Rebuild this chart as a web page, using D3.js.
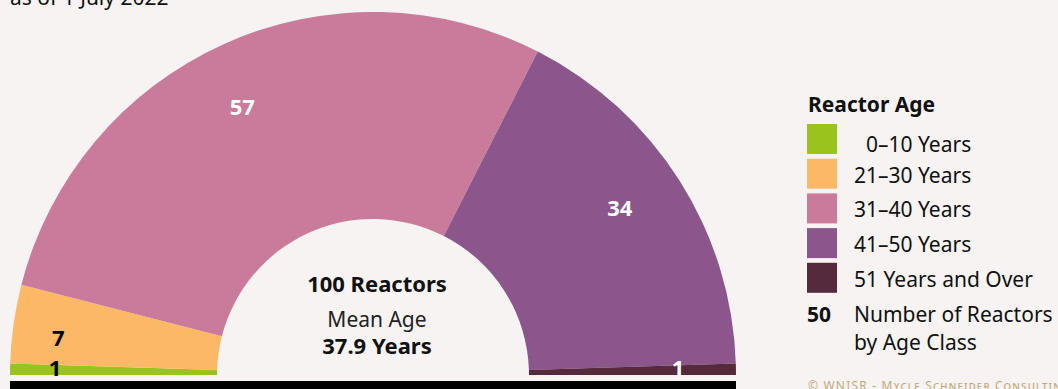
<!DOCTYPE html>
<html><head><meta charset="utf-8">
<script src="https://cdn.jsdelivr.net/npm/d3@7"></script>
<style>
html,body{margin:0;padding:0;background:#f6f3f2;}
svg{display:block;font-family:"Noto Sans",sans-serif;}
</style></head><body>
<svg id="c" width="1058" height="389"></svg>
<script>
const categories = ["0\u201310 Years", "21\u201330 Years", "31\u201340 Years", "41\u201350 Years", "51 Years and Over"];
const values = [1, 7, 57, 34, 1];
const colors = ["#9ac31c", "#fbb967", "#ca7a9a", "#8a568c", "#552a3c"];
const labelColors = ["#000", "#000", "#fff", "#fff", "#fff"];
const title = "as of 1 July 2022";
const centerLines = ["100 Reactors", "Mean Age", "37.9 Years"];
const legendTitle = "Reactor Age";
const legendNote = ["50", "Number of Reactors", "by Age Class"];
const credit = "\u00a9 WNISR - Mycle Schneider Consulting";

const svg = d3.select("#c");
const cx = 373, cy = 375, rOuter = 363, rInner = 156;

svg.append("text").attr("x", 10).attr("y", 5).attr("font-size", 21).attr("fill", "#111").text(title);

const pie = d3.pie().sort(null).value(d => d).startAngle(-Math.PI / 2).endAngle(Math.PI / 2);
const arcs = pie(values);
const arc = d3.arc().innerRadius(rInner).outerRadius(rOuter);
const g = svg.append("g").attr("transform", `translate(${cx},${cy})`);
g.selectAll("path").data(arcs).join("path").attr("d", arc).attr("fill", (d, i) => colors[i]);

g.selectAll("text.lbl").data(arcs).join("text").attr("class", "lbl")
  .attr("transform", d => {
    const small = d.data < 10;
    const last = d.index === arcs.length - 1;
    const r = small ? (last ? 305 : 318) : 298;
    const a = (d.startAngle + d.endAngle) / 2 - (small ? 0 : 0.03);
    const lift = d.index === 1 ? 8 : (small ? -2 : 0);
    return `translate(${r * Math.sin(a)},${-r * Math.cos(a) + lift})`;
  })
  .attr("text-anchor", "middle").attr("dy", "0.36em")
  .attr("font-size", 22).attr("font-weight", "bold")
  .attr("fill", (d, i) => labelColors[i]).text(d => d.data);

// baseline bar
svg.append("rect").attr("x", cx - rOuter).attr("y", 381).attr("width", 2 * rOuter).attr("height", 8).attr("fill", "#000");

// center text
const tx = cx + 4;
svg.append("text").attr("x", tx).attr("y", 292).attr("text-anchor", "middle").attr("font-size", 22).attr("font-weight", "bold").attr("fill", "#111").text(centerLines[0]);
svg.append("text").attr("x", tx).attr("y", 327).attr("text-anchor", "middle").attr("font-size", 21).attr("fill", "#222").text(centerLines[1]);
svg.append("text").attr("x", tx).attr("y", 354).attr("text-anchor", "middle").attr("font-size", 22).attr("font-weight", "bold").attr("fill", "#111").text(centerLines[2]);

// legend
const lx = 807;
svg.append("text").attr("x", lx + 1).attr("y", 112).attr("font-size", 21).attr("font-weight", "bold").attr("fill", "#111").text(legendTitle);
const ly = d3.scaleLinear().domain([0, 1]).range([124, 158.7]);
const leg = svg.append("g");
categories.forEach((c, i) => {
  leg.append("rect").attr("x", lx).attr("y", ly(i)).attr("width", 30).attr("height", 30).attr("fill", colors[i]);
  leg.append("text").attr("x", i === 0 ? 866 : 854).attr("y", ly(i) + (i === 0 ? 28 : 24)).attr("font-size", 21).attr("fill", "#111").text(c);
});
svg.append("text").attr("x", lx).attr("y", 322).attr("font-size", 21).attr("font-weight", "bold").attr("fill", "#111").text(legendNote[0]);
svg.append("text").attr("x", 854).attr("y", 322).attr("font-size", 21).attr("fill", "#111").text(legendNote[1]);
svg.append("text").attr("x", 854).attr("y", 350).attr("font-size", 21).attr("fill", "#111").text(legendNote[2]);

svg.append("text").attr("x", 808).attr("y", 390).attr("font-size", 12).attr("letter-spacing", 1.2)
  .attr("font-variant", "small-caps").attr("fill", "#c2a97a").text(credit);
</script>
</body></html>
